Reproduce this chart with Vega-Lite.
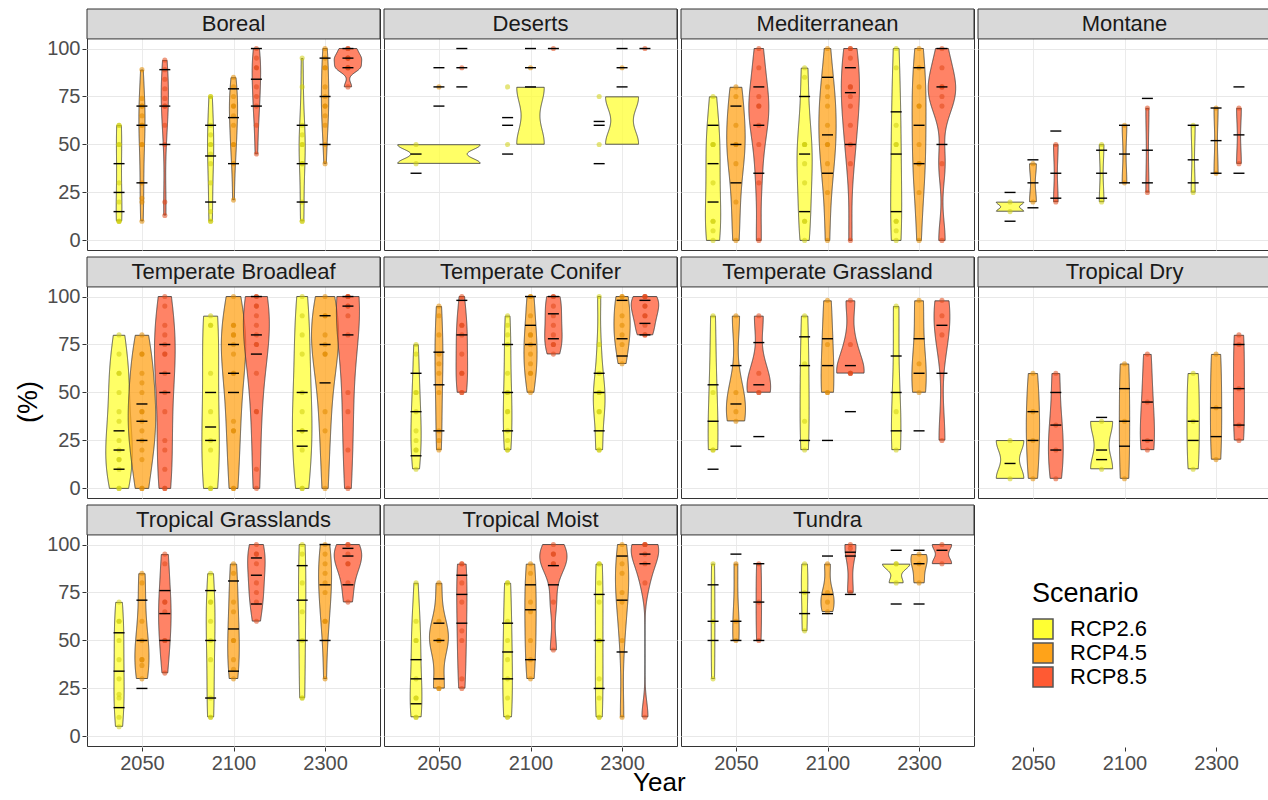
{
"$schema":"https://vega.github.io/schema/vega-lite/v6.json",
"background":"white",
"padding":{"left":14,"top":8,"right":0,"bottom":0},
"config":{
 "font":"Liberation Sans",
 "view":{"stroke":"#333333","strokeWidth":1},
 "axis":{"labelFont":"Liberation Sans","labelFontSize":20,"labelColor":"#4d4d4d","tickColor":"#333333","tickSize":4,"domain":false,"gridColor":"#ebebeb","labelPadding":2},
 "title":{"font":"Liberation Sans","fontWeight":"normal","color":"#000000","anchor":"middle"},
 "header":{"labels":false,"title":null,"labelFontSize":0,"labelPadding":0,"labelExpr":"''"},
 "headerFacet":{"labels":false,"title":null,"labelFontSize":0,"labelPadding":0,"labelExpr":"''"}
},
"datasets":{
"biomes":[{"b":"BO","Biome":"Boreal"},{"b":"DE","Biome":"Deserts"},{"b":"ME","Biome":"Mediterranean"},{"b":"MO","Biome":"Montane"},{"b":"TB","Biome":"Temperate Broadleaf"},{"b":"TC","Biome":"Temperate Conifer"},{"b":"TG","Biome":"Temperate Grassland"},{"b":"TD","Biome":"Tropical Dry"},{"b":"TR","Biome":"Tropical Grasslands"},{"b":"TM","Biome":"Tropical Moist"},{"b":"TU","Biome":"Tundra"}],
"obs":[
{"b":"BO","y":2050,"s":"RCP2.6","t":"p","v":60},{"b":"BO","y":2050,"s":"RCP2.6","t":"p","v":60},{"b":"BO","y":2050,"s":"RCP2.6","t":"p","v":50},{"b":"BO","y":2050,"s":"RCP2.6","t":"p","v":50},{"b":"BO","y":2050,"s":"RCP2.6","t":"p","v":30},{"b":"BO","y":2050,"s":"RCP2.6","t":"p","v":20},{"b":"BO","y":2050,"s":"RCP2.6","t":"p","v":10},{"b":"BO","y":2050,"s":"RCP2.6","t":"p","v":10},{"b":"BO","y":2050,"s":"RCP2.6","t":"p","v":10},
{"b":"BO","y":2050,"s":"RCP2.6","t":"q","v":40},{"b":"BO","y":2050,"s":"RCP2.6","t":"q","v":25},{"b":"BO","y":2050,"s":"RCP2.6","t":"q","v":15},
{"b":"BO","y":2050,"s":"RCP4.5","t":"p","v":89},{"b":"BO","y":2050,"s":"RCP4.5","t":"p","v":74},{"b":"BO","y":2050,"s":"RCP4.5","t":"p","v":70},{"b":"BO","y":2050,"s":"RCP4.5","t":"p","v":70},{"b":"BO","y":2050,"s":"RCP4.5","t":"p","v":65},{"b":"BO","y":2050,"s":"RCP4.5","t":"p","v":60},{"b":"BO","y":2050,"s":"RCP4.5","t":"p","v":60},{"b":"BO","y":2050,"s":"RCP4.5","t":"p","v":50},{"b":"BO","y":2050,"s":"RCP4.5","t":"p","v":50},{"b":"BO","y":2050,"s":"RCP4.5","t":"p","v":30},{"b":"BO","y":2050,"s":"RCP4.5","t":"p","v":22},{"b":"BO","y":2050,"s":"RCP4.5","t":"p","v":20},{"b":"BO","y":2050,"s":"RCP4.5","t":"p","v":10},
{"b":"BO","y":2050,"s":"RCP4.5","t":"q","v":70},{"b":"BO","y":2050,"s":"RCP4.5","t":"q","v":60},{"b":"BO","y":2050,"s":"RCP4.5","t":"q","v":30},
{"b":"BO","y":2050,"s":"RCP8.5","t":"p","v":94},{"b":"BO","y":2050,"s":"RCP8.5","t":"p","v":89},{"b":"BO","y":2050,"s":"RCP8.5","t":"p","v":84},{"b":"BO","y":2050,"s":"RCP8.5","t":"p","v":79},{"b":"BO","y":2050,"s":"RCP8.5","t":"p","v":74},{"b":"BO","y":2050,"s":"RCP8.5","t":"p","v":70},{"b":"BO","y":2050,"s":"RCP8.5","t":"p","v":70},{"b":"BO","y":2050,"s":"RCP8.5","t":"p","v":60},{"b":"BO","y":2050,"s":"RCP8.5","t":"p","v":50},{"b":"BO","y":2050,"s":"RCP8.5","t":"p","v":20},{"b":"BO","y":2050,"s":"RCP8.5","t":"p","v":13},
{"b":"BO","y":2050,"s":"RCP8.5","t":"q","v":89},{"b":"BO","y":2050,"s":"RCP8.5","t":"q","v":70},{"b":"BO","y":2050,"s":"RCP8.5","t":"q","v":50},
{"b":"BO","y":2100,"s":"RCP2.6","t":"p","v":75},{"b":"BO","y":2100,"s":"RCP2.6","t":"p","v":75},{"b":"BO","y":2100,"s":"RCP2.6","t":"p","v":60},{"b":"BO","y":2100,"s":"RCP2.6","t":"p","v":55},{"b":"BO","y":2100,"s":"RCP2.6","t":"p","v":50},{"b":"BO","y":2100,"s":"RCP2.6","t":"p","v":50},{"b":"BO","y":2100,"s":"RCP2.6","t":"p","v":45},{"b":"BO","y":2100,"s":"RCP2.6","t":"p","v":40},{"b":"BO","y":2100,"s":"RCP2.6","t":"p","v":30},{"b":"BO","y":2100,"s":"RCP2.6","t":"p","v":15},{"b":"BO","y":2100,"s":"RCP2.6","t":"p","v":10},{"b":"BO","y":2100,"s":"RCP2.6","t":"p","v":10},
{"b":"BO","y":2100,"s":"RCP2.6","t":"q","v":60},{"b":"BO","y":2100,"s":"RCP2.6","t":"q","v":44},{"b":"BO","y":2100,"s":"RCP2.6","t":"q","v":20},
{"b":"BO","y":2100,"s":"RCP4.5","t":"p","v":85},{"b":"BO","y":2100,"s":"RCP4.5","t":"p","v":80},{"b":"BO","y":2100,"s":"RCP4.5","t":"p","v":75},{"b":"BO","y":2100,"s":"RCP4.5","t":"p","v":70},{"b":"BO","y":2100,"s":"RCP4.5","t":"p","v":70},{"b":"BO","y":2100,"s":"RCP4.5","t":"p","v":65},{"b":"BO","y":2100,"s":"RCP4.5","t":"p","v":60},{"b":"BO","y":2100,"s":"RCP4.5","t":"p","v":50},{"b":"BO","y":2100,"s":"RCP4.5","t":"p","v":50},{"b":"BO","y":2100,"s":"RCP4.5","t":"p","v":40},{"b":"BO","y":2100,"s":"RCP4.5","t":"p","v":21},
{"b":"BO","y":2100,"s":"RCP4.5","t":"q","v":79},{"b":"BO","y":2100,"s":"RCP4.5","t":"q","v":64},{"b":"BO","y":2100,"s":"RCP4.5","t":"q","v":40},
{"b":"BO","y":2100,"s":"RCP8.5","t":"p","v":100},{"b":"BO","y":2100,"s":"RCP8.5","t":"p","v":95},{"b":"BO","y":2100,"s":"RCP8.5","t":"p","v":90},{"b":"BO","y":2100,"s":"RCP8.5","t":"p","v":90},{"b":"BO","y":2100,"s":"RCP8.5","t":"p","v":80},{"b":"BO","y":2100,"s":"RCP8.5","t":"p","v":75},{"b":"BO","y":2100,"s":"RCP8.5","t":"p","v":70},{"b":"BO","y":2100,"s":"RCP8.5","t":"p","v":60},{"b":"BO","y":2100,"s":"RCP8.5","t":"p","v":45},
{"b":"BO","y":2100,"s":"RCP8.5","t":"q","v":100},{"b":"BO","y":2100,"s":"RCP8.5","t":"q","v":84},{"b":"BO","y":2100,"s":"RCP8.5","t":"q","v":70},
{"b":"BO","y":2300,"s":"RCP2.6","t":"p","v":95},{"b":"BO","y":2300,"s":"RCP2.6","t":"p","v":80},{"b":"BO","y":2300,"s":"RCP2.6","t":"p","v":60},{"b":"BO","y":2300,"s":"RCP2.6","t":"p","v":55},{"b":"BO","y":2300,"s":"RCP2.6","t":"p","v":50},{"b":"BO","y":2300,"s":"RCP2.6","t":"p","v":50},{"b":"BO","y":2300,"s":"RCP2.6","t":"p","v":40},{"b":"BO","y":2300,"s":"RCP2.6","t":"p","v":40},{"b":"BO","y":2300,"s":"RCP2.6","t":"p","v":20},{"b":"BO","y":2300,"s":"RCP2.6","t":"p","v":10},{"b":"BO","y":2300,"s":"RCP2.6","t":"p","v":10},
{"b":"BO","y":2300,"s":"RCP2.6","t":"q","v":60},{"b":"BO","y":2300,"s":"RCP2.6","t":"q","v":40},{"b":"BO","y":2300,"s":"RCP2.6","t":"q","v":20},
{"b":"BO","y":2300,"s":"RCP4.5","t":"p","v":100},{"b":"BO","y":2300,"s":"RCP4.5","t":"p","v":95},{"b":"BO","y":2300,"s":"RCP4.5","t":"p","v":90},{"b":"BO","y":2300,"s":"RCP4.5","t":"p","v":90},{"b":"BO","y":2300,"s":"RCP4.5","t":"p","v":80},{"b":"BO","y":2300,"s":"RCP4.5","t":"p","v":75},{"b":"BO","y":2300,"s":"RCP4.5","t":"p","v":70},{"b":"BO","y":2300,"s":"RCP4.5","t":"p","v":70},{"b":"BO","y":2300,"s":"RCP4.5","t":"p","v":65},{"b":"BO","y":2300,"s":"RCP4.5","t":"p","v":60},{"b":"BO","y":2300,"s":"RCP4.5","t":"p","v":50},{"b":"BO","y":2300,"s":"RCP4.5","t":"p","v":40},
{"b":"BO","y":2300,"s":"RCP4.5","t":"q","v":95},{"b":"BO","y":2300,"s":"RCP4.5","t":"q","v":75},{"b":"BO","y":2300,"s":"RCP4.5","t":"q","v":50},
{"b":"BO","y":2300,"s":"RCP8.5","t":"p","v":100},{"b":"BO","y":2300,"s":"RCP8.5","t":"p","v":100},{"b":"BO","y":2300,"s":"RCP8.5","t":"p","v":95},{"b":"BO","y":2300,"s":"RCP8.5","t":"p","v":95},{"b":"BO","y":2300,"s":"RCP8.5","t":"p","v":95},{"b":"BO","y":2300,"s":"RCP8.5","t":"p","v":90},{"b":"BO","y":2300,"s":"RCP8.5","t":"p","v":90},{"b":"BO","y":2300,"s":"RCP8.5","t":"p","v":90},{"b":"BO","y":2300,"s":"RCP8.5","t":"p","v":80},
{"b":"BO","y":2300,"s":"RCP8.5","t":"q","v":100},{"b":"BO","y":2300,"s":"RCP8.5","t":"q","v":95},{"b":"BO","y":2300,"s":"RCP8.5","t":"q","v":90},

{"b":"DE","y":2050,"s":"RCP2.6","t":"p","v":50},{"b":"DE","y":2050,"s":"RCP2.6","t":"p","v":40},
{"b":"DE","y":2050,"s":"RCP2.6","t":"q","v":45},{"b":"DE","y":2050,"s":"RCP2.6","t":"q","v":35},
{"b":"DE","y":2050,"s":"RCP4.5","t":"p","v":80},
{"b":"DE","y":2050,"s":"RCP4.5","t":"q","v":90},{"b":"DE","y":2050,"s":"RCP4.5","t":"q","v":80},{"b":"DE","y":2050,"s":"RCP4.5","t":"q","v":70},
{"b":"DE","y":2050,"s":"RCP8.5","t":"p","v":90},
{"b":"DE","y":2050,"s":"RCP8.5","t":"q","v":100},{"b":"DE","y":2050,"s":"RCP8.5","t":"q","v":90},{"b":"DE","y":2050,"s":"RCP8.5","t":"q","v":80},
{"b":"DE","y":2100,"s":"RCP2.6","t":"p","v":80},{"b":"DE","y":2100,"s":"RCP2.6","t":"p","v":50},
{"b":"DE","y":2100,"s":"RCP2.6","t":"q","v":64},{"b":"DE","y":2100,"s":"RCP2.6","t":"q","v":60},{"b":"DE","y":2100,"s":"RCP2.6","t":"q","v":45},
{"b":"DE","y":2100,"s":"RCP4.5","t":"p","v":90},
{"b":"DE","y":2100,"s":"RCP4.5","t":"q","v":100},{"b":"DE","y":2100,"s":"RCP4.5","t":"q","v":90},{"b":"DE","y":2100,"s":"RCP4.5","t":"q","v":80},
{"b":"DE","y":2100,"s":"RCP8.5","t":"p","v":100},
{"b":"DE","y":2100,"s":"RCP8.5","t":"q","v":100},
{"b":"DE","y":2300,"s":"RCP2.6","t":"p","v":75},{"b":"DE","y":2300,"s":"RCP2.6","t":"p","v":50},
{"b":"DE","y":2300,"s":"RCP2.6","t":"q","v":62},{"b":"DE","y":2300,"s":"RCP2.6","t":"q","v":60},{"b":"DE","y":2300,"s":"RCP2.6","t":"q","v":40},
{"b":"DE","y":2300,"s":"RCP4.5","t":"p","v":90},
{"b":"DE","y":2300,"s":"RCP4.5","t":"q","v":100},{"b":"DE","y":2300,"s":"RCP4.5","t":"q","v":90},{"b":"DE","y":2300,"s":"RCP4.5","t":"q","v":80},
{"b":"DE","y":2300,"s":"RCP8.5","t":"p","v":100},
{"b":"DE","y":2300,"s":"RCP8.5","t":"q","v":100},

{"b":"ME","y":2050,"s":"RCP2.6","t":"p","v":75},{"b":"ME","y":2050,"s":"RCP2.6","t":"p","v":50},{"b":"ME","y":2050,"s":"RCP2.6","t":"p","v":50},{"b":"ME","y":2050,"s":"RCP2.6","t":"p","v":50},{"b":"ME","y":2050,"s":"RCP2.6","t":"p","v":30},{"b":"ME","y":2050,"s":"RCP2.6","t":"p","v":10},{"b":"ME","y":2050,"s":"RCP2.6","t":"p","v":10},{"b":"ME","y":2050,"s":"RCP2.6","t":"p","v":5},{"b":"ME","y":2050,"s":"RCP2.6","t":"p","v":0},
{"b":"ME","y":2050,"s":"RCP2.6","t":"q","v":60},{"b":"ME","y":2050,"s":"RCP2.6","t":"q","v":40},{"b":"ME","y":2050,"s":"RCP2.6","t":"q","v":20},
{"b":"ME","y":2050,"s":"RCP4.5","t":"p","v":80},{"b":"ME","y":2050,"s":"RCP4.5","t":"p","v":75},{"b":"ME","y":2050,"s":"RCP4.5","t":"p","v":60},{"b":"ME","y":2050,"s":"RCP4.5","t":"p","v":50},{"b":"ME","y":2050,"s":"RCP4.5","t":"p","v":50},{"b":"ME","y":2050,"s":"RCP4.5","t":"p","v":40},{"b":"ME","y":2050,"s":"RCP4.5","t":"p","v":20},{"b":"ME","y":2050,"s":"RCP4.5","t":"p","v":0},
{"b":"ME","y":2050,"s":"RCP4.5","t":"q","v":70},{"b":"ME","y":2050,"s":"RCP4.5","t":"q","v":50},{"b":"ME","y":2050,"s":"RCP4.5","t":"q","v":30},
{"b":"ME","y":2050,"s":"RCP8.5","t":"p","v":100},{"b":"ME","y":2050,"s":"RCP8.5","t":"p","v":90},{"b":"ME","y":2050,"s":"RCP8.5","t":"p","v":75},{"b":"ME","y":2050,"s":"RCP8.5","t":"p","v":70},{"b":"ME","y":2050,"s":"RCP8.5","t":"p","v":70},{"b":"ME","y":2050,"s":"RCP8.5","t":"p","v":60},{"b":"ME","y":2050,"s":"RCP8.5","t":"p","v":50},{"b":"ME","y":2050,"s":"RCP8.5","t":"p","v":30},{"b":"ME","y":2050,"s":"RCP8.5","t":"p","v":0},
{"b":"ME","y":2050,"s":"RCP8.5","t":"q","v":80},{"b":"ME","y":2050,"s":"RCP8.5","t":"q","v":60},{"b":"ME","y":2050,"s":"RCP8.5","t":"q","v":35},
{"b":"ME","y":2100,"s":"RCP2.6","t":"p","v":90},{"b":"ME","y":2100,"s":"RCP2.6","t":"p","v":85},{"b":"ME","y":2100,"s":"RCP2.6","t":"p","v":50},{"b":"ME","y":2100,"s":"RCP2.6","t":"p","v":50},{"b":"ME","y":2100,"s":"RCP2.6","t":"p","v":50},{"b":"ME","y":2100,"s":"RCP2.6","t":"p","v":40},{"b":"ME","y":2100,"s":"RCP2.6","t":"p","v":30},{"b":"ME","y":2100,"s":"RCP2.6","t":"p","v":10},{"b":"ME","y":2100,"s":"RCP2.6","t":"p","v":10},{"b":"ME","y":2100,"s":"RCP2.6","t":"p","v":0},
{"b":"ME","y":2100,"s":"RCP2.6","t":"q","v":75},{"b":"ME","y":2100,"s":"RCP2.6","t":"q","v":45},{"b":"ME","y":2100,"s":"RCP2.6","t":"q","v":15},
{"b":"ME","y":2100,"s":"RCP4.5","t":"p","v":100},{"b":"ME","y":2100,"s":"RCP4.5","t":"p","v":80},{"b":"ME","y":2100,"s":"RCP4.5","t":"p","v":75},{"b":"ME","y":2100,"s":"RCP4.5","t":"p","v":70},{"b":"ME","y":2100,"s":"RCP4.5","t":"p","v":60},{"b":"ME","y":2100,"s":"RCP4.5","t":"p","v":50},{"b":"ME","y":2100,"s":"RCP4.5","t":"p","v":50},{"b":"ME","y":2100,"s":"RCP4.5","t":"p","v":40},{"b":"ME","y":2100,"s":"RCP4.5","t":"p","v":25},{"b":"ME","y":2100,"s":"RCP4.5","t":"p","v":0},
{"b":"ME","y":2100,"s":"RCP4.5","t":"q","v":85},{"b":"ME","y":2100,"s":"RCP4.5","t":"q","v":55},{"b":"ME","y":2100,"s":"RCP4.5","t":"q","v":35},
{"b":"ME","y":2100,"s":"RCP8.5","t":"p","v":100},{"b":"ME","y":2100,"s":"RCP8.5","t":"p","v":100},{"b":"ME","y":2100,"s":"RCP8.5","t":"p","v":95},{"b":"ME","y":2100,"s":"RCP8.5","t":"p","v":80},{"b":"ME","y":2100,"s":"RCP8.5","t":"p","v":80},{"b":"ME","y":2100,"s":"RCP8.5","t":"p","v":75},{"b":"ME","y":2100,"s":"RCP8.5","t":"p","v":70},{"b":"ME","y":2100,"s":"RCP8.5","t":"p","v":60},{"b":"ME","y":2100,"s":"RCP8.5","t":"p","v":50},{"b":"ME","y":2100,"s":"RCP8.5","t":"p","v":40},{"b":"ME","y":2100,"s":"RCP8.5","t":"p","v":0},
{"b":"ME","y":2100,"s":"RCP8.5","t":"q","v":90},{"b":"ME","y":2100,"s":"RCP8.5","t":"q","v":77},{"b":"ME","y":2100,"s":"RCP8.5","t":"q","v":50},
{"b":"ME","y":2300,"s":"RCP2.6","t":"p","v":100},{"b":"ME","y":2300,"s":"RCP2.6","t":"p","v":90},{"b":"ME","y":2300,"s":"RCP2.6","t":"p","v":60},{"b":"ME","y":2300,"s":"RCP2.6","t":"p","v":50},{"b":"ME","y":2300,"s":"RCP2.6","t":"p","v":50},{"b":"ME","y":2300,"s":"RCP2.6","t":"p","v":10},{"b":"ME","y":2300,"s":"RCP2.6","t":"p","v":10},{"b":"ME","y":2300,"s":"RCP2.6","t":"p","v":5},{"b":"ME","y":2300,"s":"RCP2.6","t":"p","v":0},
{"b":"ME","y":2300,"s":"RCP2.6","t":"q","v":67},{"b":"ME","y":2300,"s":"RCP2.6","t":"q","v":45},{"b":"ME","y":2300,"s":"RCP2.6","t":"q","v":15},
{"b":"ME","y":2300,"s":"RCP4.5","t":"p","v":100},{"b":"ME","y":2300,"s":"RCP4.5","t":"p","v":90},{"b":"ME","y":2300,"s":"RCP4.5","t":"p","v":80},{"b":"ME","y":2300,"s":"RCP4.5","t":"p","v":70},{"b":"ME","y":2300,"s":"RCP4.5","t":"p","v":70},{"b":"ME","y":2300,"s":"RCP4.5","t":"p","v":50},{"b":"ME","y":2300,"s":"RCP4.5","t":"p","v":40},{"b":"ME","y":2300,"s":"RCP4.5","t":"p","v":40},{"b":"ME","y":2300,"s":"RCP4.5","t":"p","v":25},{"b":"ME","y":2300,"s":"RCP4.5","t":"p","v":0},
{"b":"ME","y":2300,"s":"RCP4.5","t":"q","v":90},{"b":"ME","y":2300,"s":"RCP4.5","t":"q","v":60},{"b":"ME","y":2300,"s":"RCP4.5","t":"q","v":40},
{"b":"ME","y":2300,"s":"RCP8.5","t":"p","v":100},{"b":"ME","y":2300,"s":"RCP8.5","t":"p","v":90},{"b":"ME","y":2300,"s":"RCP8.5","t":"p","v":80},{"b":"ME","y":2300,"s":"RCP8.5","t":"p","v":80},{"b":"ME","y":2300,"s":"RCP8.5","t":"p","v":75},{"b":"ME","y":2300,"s":"RCP8.5","t":"p","v":70},{"b":"ME","y":2300,"s":"RCP8.5","t":"p","v":40},{"b":"ME","y":2300,"s":"RCP8.5","t":"p","v":0},
{"b":"ME","y":2300,"s":"RCP8.5","t":"q","v":100},{"b":"ME","y":2300,"s":"RCP8.5","t":"q","v":80},{"b":"ME","y":2300,"s":"RCP8.5","t":"q","v":50},

{"b":"MO","y":2050,"s":"RCP2.6","t":"p","v":20},{"b":"MO","y":2050,"s":"RCP2.6","t":"p","v":15},
{"b":"MO","y":2050,"s":"RCP2.6","t":"q","v":25},{"b":"MO","y":2050,"s":"RCP2.6","t":"q","v":10},
{"b":"MO","y":2050,"s":"RCP4.5","t":"p","v":40},{"b":"MO","y":2050,"s":"RCP4.5","t":"p","v":20},
{"b":"MO","y":2050,"s":"RCP4.5","t":"q","v":42},{"b":"MO","y":2050,"s":"RCP4.5","t":"q","v":30},{"b":"MO","y":2050,"s":"RCP4.5","t":"q","v":17},
{"b":"MO","y":2050,"s":"RCP8.5","t":"p","v":50},{"b":"MO","y":2050,"s":"RCP8.5","t":"p","v":20},
{"b":"MO","y":2050,"s":"RCP8.5","t":"q","v":57},{"b":"MO","y":2050,"s":"RCP8.5","t":"q","v":35},{"b":"MO","y":2050,"s":"RCP8.5","t":"q","v":22},
{"b":"MO","y":2100,"s":"RCP2.6","t":"p","v":50},{"b":"MO","y":2100,"s":"RCP2.6","t":"p","v":20},
{"b":"MO","y":2100,"s":"RCP2.6","t":"q","v":47},{"b":"MO","y":2100,"s":"RCP2.6","t":"q","v":35},{"b":"MO","y":2100,"s":"RCP2.6","t":"q","v":22},
{"b":"MO","y":2100,"s":"RCP4.5","t":"p","v":60},{"b":"MO","y":2100,"s":"RCP4.5","t":"p","v":30},
{"b":"MO","y":2100,"s":"RCP4.5","t":"q","v":60},{"b":"MO","y":2100,"s":"RCP4.5","t":"q","v":45},{"b":"MO","y":2100,"s":"RCP4.5","t":"q","v":30},
{"b":"MO","y":2100,"s":"RCP8.5","t":"p","v":69},{"b":"MO","y":2100,"s":"RCP8.5","t":"p","v":25},
{"b":"MO","y":2100,"s":"RCP8.5","t":"q","v":74},{"b":"MO","y":2100,"s":"RCP8.5","t":"q","v":47},{"b":"MO","y":2100,"s":"RCP8.5","t":"q","v":30},
{"b":"MO","y":2300,"s":"RCP2.6","t":"p","v":60},{"b":"MO","y":2300,"s":"RCP2.6","t":"p","v":25},
{"b":"MO","y":2300,"s":"RCP2.6","t":"q","v":60},{"b":"MO","y":2300,"s":"RCP2.6","t":"q","v":42},{"b":"MO","y":2300,"s":"RCP2.6","t":"q","v":30},
{"b":"MO","y":2300,"s":"RCP4.5","t":"p","v":69},{"b":"MO","y":2300,"s":"RCP4.5","t":"p","v":35},
{"b":"MO","y":2300,"s":"RCP4.5","t":"q","v":69},{"b":"MO","y":2300,"s":"RCP4.5","t":"q","v":52},{"b":"MO","y":2300,"s":"RCP4.5","t":"q","v":35},
{"b":"MO","y":2300,"s":"RCP8.5","t":"p","v":69},{"b":"MO","y":2300,"s":"RCP8.5","t":"p","v":40},
{"b":"MO","y":2300,"s":"RCP8.5","t":"q","v":80},{"b":"MO","y":2300,"s":"RCP8.5","t":"q","v":55},{"b":"MO","y":2300,"s":"RCP8.5","t":"q","v":35},

{"b":"TB","y":2050,"s":"RCP2.6","t":"p","v":80},{"b":"TB","y":2050,"s":"RCP2.6","t":"p","v":70},{"b":"TB","y":2050,"s":"RCP2.6","t":"p","v":60},{"b":"TB","y":2050,"s":"RCP2.6","t":"p","v":60},{"b":"TB","y":2050,"s":"RCP2.6","t":"p","v":50},{"b":"TB","y":2050,"s":"RCP2.6","t":"p","v":40},{"b":"TB","y":2050,"s":"RCP2.6","t":"p","v":35},{"b":"TB","y":2050,"s":"RCP2.6","t":"p","v":25},{"b":"TB","y":2050,"s":"RCP2.6","t":"p","v":20},{"b":"TB","y":2050,"s":"RCP2.6","t":"p","v":15},{"b":"TB","y":2050,"s":"RCP2.6","t":"p","v":15},{"b":"TB","y":2050,"s":"RCP2.6","t":"p","v":10},{"b":"TB","y":2050,"s":"RCP2.6","t":"p","v":0},{"b":"TB","y":2050,"s":"RCP2.6","t":"p","v":0},
{"b":"TB","y":2050,"s":"RCP2.6","t":"q","v":30},{"b":"TB","y":2050,"s":"RCP2.6","t":"q","v":20},{"b":"TB","y":2050,"s":"RCP2.6","t":"q","v":10},
{"b":"TB","y":2050,"s":"RCP4.5","t":"p","v":80},{"b":"TB","y":2050,"s":"RCP4.5","t":"p","v":70},{"b":"TB","y":2050,"s":"RCP4.5","t":"p","v":70},{"b":"TB","y":2050,"s":"RCP4.5","t":"p","v":60},{"b":"TB","y":2050,"s":"RCP4.5","t":"p","v":55},{"b":"TB","y":2050,"s":"RCP4.5","t":"p","v":50},{"b":"TB","y":2050,"s":"RCP4.5","t":"p","v":40},{"b":"TB","y":2050,"s":"RCP4.5","t":"p","v":40},{"b":"TB","y":2050,"s":"RCP4.5","t":"p","v":35},{"b":"TB","y":2050,"s":"RCP4.5","t":"p","v":30},{"b":"TB","y":2050,"s":"RCP4.5","t":"p","v":25},{"b":"TB","y":2050,"s":"RCP4.5","t":"p","v":20},{"b":"TB","y":2050,"s":"RCP4.5","t":"p","v":15},{"b":"TB","y":2050,"s":"RCP4.5","t":"p","v":0},{"b":"TB","y":2050,"s":"RCP4.5","t":"p","v":0},
{"b":"TB","y":2050,"s":"RCP4.5","t":"q","v":44},{"b":"TB","y":2050,"s":"RCP4.5","t":"q","v":35},{"b":"TB","y":2050,"s":"RCP4.5","t":"q","v":25},
{"b":"TB","y":2050,"s":"RCP8.5","t":"p","v":100},{"b":"TB","y":2050,"s":"RCP8.5","t":"p","v":95},{"b":"TB","y":2050,"s":"RCP8.5","t":"p","v":85},{"b":"TB","y":2050,"s":"RCP8.5","t":"p","v":80},{"b":"TB","y":2050,"s":"RCP8.5","t":"p","v":75},{"b":"TB","y":2050,"s":"RCP8.5","t":"p","v":70},{"b":"TB","y":2050,"s":"RCP8.5","t":"p","v":70},{"b":"TB","y":2050,"s":"RCP8.5","t":"p","v":60},{"b":"TB","y":2050,"s":"RCP8.5","t":"p","v":50},{"b":"TB","y":2050,"s":"RCP8.5","t":"p","v":40},{"b":"TB","y":2050,"s":"RCP8.5","t":"p","v":25},{"b":"TB","y":2050,"s":"RCP8.5","t":"p","v":20},{"b":"TB","y":2050,"s":"RCP8.5","t":"p","v":10},{"b":"TB","y":2050,"s":"RCP8.5","t":"p","v":0},{"b":"TB","y":2050,"s":"RCP8.5","t":"p","v":0},
{"b":"TB","y":2050,"s":"RCP8.5","t":"q","v":75},{"b":"TB","y":2050,"s":"RCP8.5","t":"q","v":60},{"b":"TB","y":2050,"s":"RCP8.5","t":"q","v":50},
{"b":"TB","y":2100,"s":"RCP2.6","t":"p","v":90},{"b":"TB","y":2100,"s":"RCP2.6","t":"p","v":85},{"b":"TB","y":2100,"s":"RCP2.6","t":"p","v":85},{"b":"TB","y":2100,"s":"RCP2.6","t":"p","v":60},{"b":"TB","y":2100,"s":"RCP2.6","t":"p","v":40},{"b":"TB","y":2100,"s":"RCP2.6","t":"p","v":25},{"b":"TB","y":2100,"s":"RCP2.6","t":"p","v":20},{"b":"TB","y":2100,"s":"RCP2.6","t":"p","v":0},{"b":"TB","y":2100,"s":"RCP2.6","t":"p","v":0},
{"b":"TB","y":2100,"s":"RCP2.6","t":"q","v":50},{"b":"TB","y":2100,"s":"RCP2.6","t":"q","v":32},{"b":"TB","y":2100,"s":"RCP2.6","t":"q","v":25},
{"b":"TB","y":2100,"s":"RCP4.5","t":"p","v":100},{"b":"TB","y":2100,"s":"RCP4.5","t":"p","v":85},{"b":"TB","y":2100,"s":"RCP4.5","t":"p","v":85},{"b":"TB","y":2100,"s":"RCP4.5","t":"p","v":80},{"b":"TB","y":2100,"s":"RCP4.5","t":"p","v":80},{"b":"TB","y":2100,"s":"RCP4.5","t":"p","v":75},{"b":"TB","y":2100,"s":"RCP4.5","t":"p","v":70},{"b":"TB","y":2100,"s":"RCP4.5","t":"p","v":60},{"b":"TB","y":2100,"s":"RCP4.5","t":"p","v":60},{"b":"TB","y":2100,"s":"RCP4.5","t":"p","v":35},{"b":"TB","y":2100,"s":"RCP4.5","t":"p","v":30},{"b":"TB","y":2100,"s":"RCP4.5","t":"p","v":30},{"b":"TB","y":2100,"s":"RCP4.5","t":"p","v":0},{"b":"TB","y":2100,"s":"RCP4.5","t":"p","v":0},
{"b":"TB","y":2100,"s":"RCP4.5","t":"q","v":75},{"b":"TB","y":2100,"s":"RCP4.5","t":"q","v":60},{"b":"TB","y":2100,"s":"RCP4.5","t":"q","v":50},
{"b":"TB","y":2100,"s":"RCP8.5","t":"p","v":100},{"b":"TB","y":2100,"s":"RCP8.5","t":"p","v":100},{"b":"TB","y":2100,"s":"RCP8.5","t":"p","v":95},{"b":"TB","y":2100,"s":"RCP8.5","t":"p","v":95},{"b":"TB","y":2100,"s":"RCP8.5","t":"p","v":90},{"b":"TB","y":2100,"s":"RCP8.5","t":"p","v":85},{"b":"TB","y":2100,"s":"RCP8.5","t":"p","v":80},{"b":"TB","y":2100,"s":"RCP8.5","t":"p","v":75},{"b":"TB","y":2100,"s":"RCP8.5","t":"p","v":75},{"b":"TB","y":2100,"s":"RCP8.5","t":"p","v":60},{"b":"TB","y":2100,"s":"RCP8.5","t":"p","v":40},{"b":"TB","y":2100,"s":"RCP8.5","t":"p","v":40},{"b":"TB","y":2100,"s":"RCP8.5","t":"p","v":10},{"b":"TB","y":2100,"s":"RCP8.5","t":"p","v":0},
{"b":"TB","y":2100,"s":"RCP8.5","t":"q","v":100},{"b":"TB","y":2100,"s":"RCP8.5","t":"q","v":80},{"b":"TB","y":2100,"s":"RCP8.5","t":"q","v":70},
{"b":"TB","y":2300,"s":"RCP2.6","t":"p","v":100},{"b":"TB","y":2300,"s":"RCP2.6","t":"p","v":90},{"b":"TB","y":2300,"s":"RCP2.6","t":"p","v":80},{"b":"TB","y":2300,"s":"RCP2.6","t":"p","v":70},{"b":"TB","y":2300,"s":"RCP2.6","t":"p","v":50},{"b":"TB","y":2300,"s":"RCP2.6","t":"p","v":40},{"b":"TB","y":2300,"s":"RCP2.6","t":"p","v":30},{"b":"TB","y":2300,"s":"RCP2.6","t":"p","v":30},{"b":"TB","y":2300,"s":"RCP2.6","t":"p","v":20},{"b":"TB","y":2300,"s":"RCP2.6","t":"p","v":0},{"b":"TB","y":2300,"s":"RCP2.6","t":"p","v":0},
{"b":"TB","y":2300,"s":"RCP2.6","t":"q","v":50},{"b":"TB","y":2300,"s":"RCP2.6","t":"q","v":30},{"b":"TB","y":2300,"s":"RCP2.6","t":"q","v":22},
{"b":"TB","y":2300,"s":"RCP4.5","t":"p","v":100},{"b":"TB","y":2300,"s":"RCP4.5","t":"p","v":90},{"b":"TB","y":2300,"s":"RCP4.5","t":"p","v":90},{"b":"TB","y":2300,"s":"RCP4.5","t":"p","v":80},{"b":"TB","y":2300,"s":"RCP4.5","t":"p","v":75},{"b":"TB","y":2300,"s":"RCP4.5","t":"p","v":70},{"b":"TB","y":2300,"s":"RCP4.5","t":"p","v":70},{"b":"TB","y":2300,"s":"RCP4.5","t":"p","v":40},{"b":"TB","y":2300,"s":"RCP4.5","t":"p","v":30},{"b":"TB","y":2300,"s":"RCP4.5","t":"p","v":0},
{"b":"TB","y":2300,"s":"RCP4.5","t":"q","v":90},{"b":"TB","y":2300,"s":"RCP4.5","t":"q","v":75},{"b":"TB","y":2300,"s":"RCP4.5","t":"q","v":55},
{"b":"TB","y":2300,"s":"RCP8.5","t":"p","v":100},{"b":"TB","y":2300,"s":"RCP8.5","t":"p","v":100},{"b":"TB","y":2300,"s":"RCP8.5","t":"p","v":100},{"b":"TB","y":2300,"s":"RCP8.5","t":"p","v":95},{"b":"TB","y":2300,"s":"RCP8.5","t":"p","v":95},{"b":"TB","y":2300,"s":"RCP8.5","t":"p","v":90},{"b":"TB","y":2300,"s":"RCP8.5","t":"p","v":80},{"b":"TB","y":2300,"s":"RCP8.5","t":"p","v":50},{"b":"TB","y":2300,"s":"RCP8.5","t":"p","v":40},{"b":"TB","y":2300,"s":"RCP8.5","t":"p","v":20},{"b":"TB","y":2300,"s":"RCP8.5","t":"p","v":0},
{"b":"TB","y":2300,"s":"RCP8.5","t":"q","v":100},{"b":"TB","y":2300,"s":"RCP8.5","t":"q","v":95},{"b":"TB","y":2300,"s":"RCP8.5","t":"q","v":80},

{"b":"TC","y":2050,"s":"RCP2.6","t":"p","v":75},{"b":"TC","y":2050,"s":"RCP2.6","t":"p","v":70},{"b":"TC","y":2050,"s":"RCP2.6","t":"p","v":50},{"b":"TC","y":2050,"s":"RCP2.6","t":"p","v":50},{"b":"TC","y":2050,"s":"RCP2.6","t":"p","v":40},{"b":"TC","y":2050,"s":"RCP2.6","t":"p","v":30},{"b":"TC","y":2050,"s":"RCP2.6","t":"p","v":25},{"b":"TC","y":2050,"s":"RCP2.6","t":"p","v":20},{"b":"TC","y":2050,"s":"RCP2.6","t":"p","v":20},{"b":"TC","y":2050,"s":"RCP2.6","t":"p","v":10},
{"b":"TC","y":2050,"s":"RCP2.6","t":"q","v":60},{"b":"TC","y":2050,"s":"RCP2.6","t":"q","v":40},{"b":"TC","y":2050,"s":"RCP2.6","t":"q","v":17},
{"b":"TC","y":2050,"s":"RCP4.5","t":"p","v":95},{"b":"TC","y":2050,"s":"RCP4.5","t":"p","v":90},{"b":"TC","y":2050,"s":"RCP4.5","t":"p","v":80},{"b":"TC","y":2050,"s":"RCP4.5","t":"p","v":70},{"b":"TC","y":2050,"s":"RCP4.5","t":"p","v":65},{"b":"TC","y":2050,"s":"RCP4.5","t":"p","v":60},{"b":"TC","y":2050,"s":"RCP4.5","t":"p","v":50},{"b":"TC","y":2050,"s":"RCP4.5","t":"p","v":30},{"b":"TC","y":2050,"s":"RCP4.5","t":"p","v":25},{"b":"TC","y":2050,"s":"RCP4.5","t":"p","v":20},
{"b":"TC","y":2050,"s":"RCP4.5","t":"q","v":71},{"b":"TC","y":2050,"s":"RCP4.5","t":"q","v":54},{"b":"TC","y":2050,"s":"RCP4.5","t":"q","v":30},
{"b":"TC","y":2050,"s":"RCP8.5","t":"p","v":100},{"b":"TC","y":2050,"s":"RCP8.5","t":"p","v":85},{"b":"TC","y":2050,"s":"RCP8.5","t":"p","v":85},{"b":"TC","y":2050,"s":"RCP8.5","t":"p","v":80},{"b":"TC","y":2050,"s":"RCP8.5","t":"p","v":70},{"b":"TC","y":2050,"s":"RCP8.5","t":"p","v":60},{"b":"TC","y":2050,"s":"RCP8.5","t":"p","v":60},{"b":"TC","y":2050,"s":"RCP8.5","t":"p","v":50},{"b":"TC","y":2050,"s":"RCP8.5","t":"p","v":50},
{"b":"TC","y":2050,"s":"RCP8.5","t":"q","v":98},{"b":"TC","y":2050,"s":"RCP8.5","t":"q","v":80},
{"b":"TC","y":2100,"s":"RCP2.6","t":"p","v":90},{"b":"TC","y":2100,"s":"RCP2.6","t":"p","v":85},{"b":"TC","y":2100,"s":"RCP2.6","t":"p","v":80},{"b":"TC","y":2100,"s":"RCP2.6","t":"p","v":75},{"b":"TC","y":2100,"s":"RCP2.6","t":"p","v":60},{"b":"TC","y":2100,"s":"RCP2.6","t":"p","v":50},{"b":"TC","y":2100,"s":"RCP2.6","t":"p","v":50},{"b":"TC","y":2100,"s":"RCP2.6","t":"p","v":40},{"b":"TC","y":2100,"s":"RCP2.6","t":"p","v":40},{"b":"TC","y":2100,"s":"RCP2.6","t":"p","v":30},{"b":"TC","y":2100,"s":"RCP2.6","t":"p","v":25},{"b":"TC","y":2100,"s":"RCP2.6","t":"p","v":20},{"b":"TC","y":2100,"s":"RCP2.6","t":"p","v":20},
{"b":"TC","y":2100,"s":"RCP2.6","t":"q","v":75},{"b":"TC","y":2100,"s":"RCP2.6","t":"q","v":50},{"b":"TC","y":2100,"s":"RCP2.6","t":"q","v":30},
{"b":"TC","y":2100,"s":"RCP4.5","t":"p","v":100},{"b":"TC","y":2100,"s":"RCP4.5","t":"p","v":100},{"b":"TC","y":2100,"s":"RCP4.5","t":"p","v":90},{"b":"TC","y":2100,"s":"RCP4.5","t":"p","v":80},{"b":"TC","y":2100,"s":"RCP4.5","t":"p","v":80},{"b":"TC","y":2100,"s":"RCP4.5","t":"p","v":75},{"b":"TC","y":2100,"s":"RCP4.5","t":"p","v":70},{"b":"TC","y":2100,"s":"RCP4.5","t":"p","v":65},{"b":"TC","y":2100,"s":"RCP4.5","t":"p","v":60},{"b":"TC","y":2100,"s":"RCP4.5","t":"p","v":60},{"b":"TC","y":2100,"s":"RCP4.5","t":"p","v":50},
{"b":"TC","y":2100,"s":"RCP4.5","t":"q","v":100},{"b":"TC","y":2100,"s":"RCP4.5","t":"q","v":85},{"b":"TC","y":2100,"s":"RCP4.5","t":"q","v":75},
{"b":"TC","y":2100,"s":"RCP8.5","t":"p","v":100},{"b":"TC","y":2100,"s":"RCP8.5","t":"p","v":100},{"b":"TC","y":2100,"s":"RCP8.5","t":"p","v":95},{"b":"TC","y":2100,"s":"RCP8.5","t":"p","v":90},{"b":"TC","y":2100,"s":"RCP8.5","t":"p","v":85},{"b":"TC","y":2100,"s":"RCP8.5","t":"p","v":80},{"b":"TC","y":2100,"s":"RCP8.5","t":"p","v":75},{"b":"TC","y":2100,"s":"RCP8.5","t":"p","v":75},{"b":"TC","y":2100,"s":"RCP8.5","t":"p","v":70},
{"b":"TC","y":2100,"s":"RCP8.5","t":"q","v":100},{"b":"TC","y":2100,"s":"RCP8.5","t":"q","v":91},{"b":"TC","y":2100,"s":"RCP8.5","t":"q","v":78},
{"b":"TC","y":2300,"s":"RCP2.6","t":"p","v":100},{"b":"TC","y":2300,"s":"RCP2.6","t":"p","v":75},{"b":"TC","y":2300,"s":"RCP2.6","t":"p","v":60},{"b":"TC","y":2300,"s":"RCP2.6","t":"p","v":50},{"b":"TC","y":2300,"s":"RCP2.6","t":"p","v":50},{"b":"TC","y":2300,"s":"RCP2.6","t":"p","v":40},{"b":"TC","y":2300,"s":"RCP2.6","t":"p","v":40},{"b":"TC","y":2300,"s":"RCP2.6","t":"p","v":20},{"b":"TC","y":2300,"s":"RCP2.6","t":"p","v":20},
{"b":"TC","y":2300,"s":"RCP2.6","t":"q","v":60},{"b":"TC","y":2300,"s":"RCP2.6","t":"q","v":50},{"b":"TC","y":2300,"s":"RCP2.6","t":"q","v":30},
{"b":"TC","y":2300,"s":"RCP4.5","t":"p","v":100},{"b":"TC","y":2300,"s":"RCP4.5","t":"p","v":100},{"b":"TC","y":2300,"s":"RCP4.5","t":"p","v":90},{"b":"TC","y":2300,"s":"RCP4.5","t":"p","v":85},{"b":"TC","y":2300,"s":"RCP4.5","t":"p","v":80},{"b":"TC","y":2300,"s":"RCP4.5","t":"p","v":75},{"b":"TC","y":2300,"s":"RCP4.5","t":"p","v":65},
{"b":"TC","y":2300,"s":"RCP4.5","t":"q","v":98},{"b":"TC","y":2300,"s":"RCP4.5","t":"q","v":78},{"b":"TC","y":2300,"s":"RCP4.5","t":"q","v":69},
{"b":"TC","y":2300,"s":"RCP8.5","t":"p","v":100},{"b":"TC","y":2300,"s":"RCP8.5","t":"p","v":100},{"b":"TC","y":2300,"s":"RCP8.5","t":"p","v":100},{"b":"TC","y":2300,"s":"RCP8.5","t":"p","v":95},{"b":"TC","y":2300,"s":"RCP8.5","t":"p","v":95},{"b":"TC","y":2300,"s":"RCP8.5","t":"p","v":90},{"b":"TC","y":2300,"s":"RCP8.5","t":"p","v":90},{"b":"TC","y":2300,"s":"RCP8.5","t":"p","v":85},{"b":"TC","y":2300,"s":"RCP8.5","t":"p","v":80},{"b":"TC","y":2300,"s":"RCP8.5","t":"p","v":80},
{"b":"TC","y":2300,"s":"RCP8.5","t":"q","v":98},{"b":"TC","y":2300,"s":"RCP8.5","t":"q","v":86},{"b":"TC","y":2300,"s":"RCP8.5","t":"q","v":80},

{"b":"TG","y":2050,"s":"RCP2.6","t":"p","v":90},{"b":"TG","y":2050,"s":"RCP2.6","t":"p","v":50},{"b":"TG","y":2050,"s":"RCP2.6","t":"p","v":20},{"b":"TG","y":2050,"s":"RCP2.6","t":"p","v":20},
{"b":"TG","y":2050,"s":"RCP2.6","t":"q","v":54},{"b":"TG","y":2050,"s":"RCP2.6","t":"q","v":35},{"b":"TG","y":2050,"s":"RCP2.6","t":"q","v":10},
{"b":"TG","y":2050,"s":"RCP4.5","t":"p","v":90},{"b":"TG","y":2050,"s":"RCP4.5","t":"p","v":50},{"b":"TG","y":2050,"s":"RCP4.5","t":"p","v":40},{"b":"TG","y":2050,"s":"RCP4.5","t":"p","v":35},
{"b":"TG","y":2050,"s":"RCP4.5","t":"q","v":64},{"b":"TG","y":2050,"s":"RCP4.5","t":"q","v":44},{"b":"TG","y":2050,"s":"RCP4.5","t":"q","v":22},
{"b":"TG","y":2050,"s":"RCP8.5","t":"p","v":90},{"b":"TG","y":2050,"s":"RCP8.5","t":"p","v":60},{"b":"TG","y":2050,"s":"RCP8.5","t":"p","v":50},{"b":"TG","y":2050,"s":"RCP8.5","t":"p","v":50},
{"b":"TG","y":2050,"s":"RCP8.5","t":"q","v":76},{"b":"TG","y":2050,"s":"RCP8.5","t":"q","v":54},{"b":"TG","y":2050,"s":"RCP8.5","t":"q","v":27},
{"b":"TG","y":2100,"s":"RCP2.6","t":"p","v":90},{"b":"TG","y":2100,"s":"RCP2.6","t":"p","v":65},{"b":"TG","y":2100,"s":"RCP2.6","t":"p","v":35},{"b":"TG","y":2100,"s":"RCP2.6","t":"p","v":20},
{"b":"TG","y":2100,"s":"RCP2.6","t":"q","v":79},{"b":"TG","y":2100,"s":"RCP2.6","t":"q","v":64},{"b":"TG","y":2100,"s":"RCP2.6","t":"q","v":25},
{"b":"TG","y":2100,"s":"RCP4.5","t":"p","v":98},{"b":"TG","y":2100,"s":"RCP4.5","t":"p","v":75},{"b":"TG","y":2100,"s":"RCP4.5","t":"p","v":50},{"b":"TG","y":2100,"s":"RCP4.5","t":"p","v":50},
{"b":"TG","y":2100,"s":"RCP4.5","t":"q","v":78},{"b":"TG","y":2100,"s":"RCP4.5","t":"q","v":64},{"b":"TG","y":2100,"s":"RCP4.5","t":"q","v":25},
{"b":"TG","y":2100,"s":"RCP8.5","t":"p","v":98},{"b":"TG","y":2100,"s":"RCP8.5","t":"p","v":75},{"b":"TG","y":2100,"s":"RCP8.5","t":"p","v":60},{"b":"TG","y":2100,"s":"RCP8.5","t":"p","v":60},{"b":"TG","y":2100,"s":"RCP8.5","t":"p","v":60},
{"b":"TG","y":2100,"s":"RCP8.5","t":"q","v":64},{"b":"TG","y":2100,"s":"RCP8.5","t":"q","v":40},
{"b":"TG","y":2300,"s":"RCP2.6","t":"p","v":95},{"b":"TG","y":2300,"s":"RCP2.6","t":"p","v":40},{"b":"TG","y":2300,"s":"RCP2.6","t":"p","v":20},
{"b":"TG","y":2300,"s":"RCP2.6","t":"q","v":69},{"b":"TG","y":2300,"s":"RCP2.6","t":"q","v":50},{"b":"TG","y":2300,"s":"RCP2.6","t":"q","v":30},
{"b":"TG","y":2300,"s":"RCP4.5","t":"p","v":98},{"b":"TG","y":2300,"s":"RCP4.5","t":"p","v":65},{"b":"TG","y":2300,"s":"RCP4.5","t":"p","v":50},
{"b":"TG","y":2300,"s":"RCP4.5","t":"q","v":78},{"b":"TG","y":2300,"s":"RCP4.5","t":"q","v":60},{"b":"TG","y":2300,"s":"RCP4.5","t":"q","v":30},
{"b":"TG","y":2300,"s":"RCP8.5","t":"p","v":98},{"b":"TG","y":2300,"s":"RCP8.5","t":"p","v":90},{"b":"TG","y":2300,"s":"RCP8.5","t":"p","v":80},{"b":"TG","y":2300,"s":"RCP8.5","t":"p","v":25},
{"b":"TG","y":2300,"s":"RCP8.5","t":"q","v":85},{"b":"TG","y":2300,"s":"RCP8.5","t":"q","v":60},

{"b":"TD","y":2050,"s":"RCP2.6","t":"p","v":25},{"b":"TD","y":2050,"s":"RCP2.6","t":"p","v":5},
{"b":"TD","y":2050,"s":"RCP2.6","t":"q","v":13},
{"b":"TD","y":2050,"s":"RCP4.5","t":"p","v":60},{"b":"TD","y":2050,"s":"RCP4.5","t":"p","v":40},{"b":"TD","y":2050,"s":"RCP4.5","t":"p","v":25},{"b":"TD","y":2050,"s":"RCP4.5","t":"p","v":5},
{"b":"TD","y":2050,"s":"RCP4.5","t":"q","v":40},{"b":"TD","y":2050,"s":"RCP4.5","t":"q","v":25},
{"b":"TD","y":2050,"s":"RCP8.5","t":"p","v":60},{"b":"TD","y":2050,"s":"RCP8.5","t":"p","v":33},{"b":"TD","y":2050,"s":"RCP8.5","t":"p","v":20},{"b":"TD","y":2050,"s":"RCP8.5","t":"p","v":5},
{"b":"TD","y":2050,"s":"RCP8.5","t":"q","v":50},{"b":"TD","y":2050,"s":"RCP8.5","t":"q","v":33},{"b":"TD","y":2050,"s":"RCP8.5","t":"q","v":20},
{"b":"TD","y":2100,"s":"RCP2.6","t":"p","v":35},{"b":"TD","y":2100,"s":"RCP2.6","t":"p","v":10},
{"b":"TD","y":2100,"s":"RCP2.6","t":"q","v":37},{"b":"TD","y":2100,"s":"RCP2.6","t":"q","v":20},{"b":"TD","y":2100,"s":"RCP2.6","t":"q","v":15},
{"b":"TD","y":2100,"s":"RCP4.5","t":"p","v":65},{"b":"TD","y":2100,"s":"RCP4.5","t":"p","v":35},{"b":"TD","y":2100,"s":"RCP4.5","t":"p","v":5},
{"b":"TD","y":2100,"s":"RCP4.5","t":"q","v":52},{"b":"TD","y":2100,"s":"RCP4.5","t":"q","v":35},{"b":"TD","y":2100,"s":"RCP4.5","t":"q","v":22},
{"b":"TD","y":2100,"s":"RCP8.5","t":"p","v":70},{"b":"TD","y":2100,"s":"RCP8.5","t":"p","v":45},{"b":"TD","y":2100,"s":"RCP8.5","t":"p","v":25},{"b":"TD","y":2100,"s":"RCP8.5","t":"p","v":20},
{"b":"TD","y":2100,"s":"RCP8.5","t":"q","v":45},{"b":"TD","y":2100,"s":"RCP8.5","t":"q","v":25},
{"b":"TD","y":2300,"s":"RCP2.6","t":"p","v":60},{"b":"TD","y":2300,"s":"RCP2.6","t":"p","v":35},{"b":"TD","y":2300,"s":"RCP2.6","t":"p","v":10},
{"b":"TD","y":2300,"s":"RCP2.6","t":"q","v":35},{"b":"TD","y":2300,"s":"RCP2.6","t":"q","v":25},
{"b":"TD","y":2300,"s":"RCP4.5","t":"p","v":70},{"b":"TD","y":2300,"s":"RCP4.5","t":"p","v":42},{"b":"TD","y":2300,"s":"RCP4.5","t":"p","v":15},
{"b":"TD","y":2300,"s":"RCP4.5","t":"q","v":42},{"b":"TD","y":2300,"s":"RCP4.5","t":"q","v":27},
{"b":"TD","y":2300,"s":"RCP8.5","t":"p","v":80},{"b":"TD","y":2300,"s":"RCP8.5","t":"p","v":75},{"b":"TD","y":2300,"s":"RCP8.5","t":"p","v":52},{"b":"TD","y":2300,"s":"RCP8.5","t":"p","v":33},{"b":"TD","y":2300,"s":"RCP8.5","t":"p","v":25},
{"b":"TD","y":2300,"s":"RCP8.5","t":"q","v":75},{"b":"TD","y":2300,"s":"RCP8.5","t":"q","v":52},{"b":"TD","y":2300,"s":"RCP8.5","t":"q","v":33},

{"b":"TR","y":2050,"s":"RCP2.6","t":"p","v":70},{"b":"TR","y":2050,"s":"RCP2.6","t":"p","v":60},{"b":"TR","y":2050,"s":"RCP2.6","t":"p","v":60},{"b":"TR","y":2050,"s":"RCP2.6","t":"p","v":50},{"b":"TR","y":2050,"s":"RCP2.6","t":"p","v":40},{"b":"TR","y":2050,"s":"RCP2.6","t":"p","v":30},{"b":"TR","y":2050,"s":"RCP2.6","t":"p","v":22},{"b":"TR","y":2050,"s":"RCP2.6","t":"p","v":20},{"b":"TR","y":2050,"s":"RCP2.6","t":"p","v":10},{"b":"TR","y":2050,"s":"RCP2.6","t":"p","v":5},
{"b":"TR","y":2050,"s":"RCP2.6","t":"q","v":54},{"b":"TR","y":2050,"s":"RCP2.6","t":"q","v":34},{"b":"TR","y":2050,"s":"RCP2.6","t":"q","v":15},
{"b":"TR","y":2050,"s":"RCP4.5","t":"p","v":85},{"b":"TR","y":2050,"s":"RCP4.5","t":"p","v":80},{"b":"TR","y":2050,"s":"RCP4.5","t":"p","v":60},{"b":"TR","y":2050,"s":"RCP4.5","t":"p","v":50},{"b":"TR","y":2050,"s":"RCP4.5","t":"p","v":40},{"b":"TR","y":2050,"s":"RCP4.5","t":"p","v":40},{"b":"TR","y":2050,"s":"RCP4.5","t":"p","v":37},{"b":"TR","y":2050,"s":"RCP4.5","t":"p","v":30},
{"b":"TR","y":2050,"s":"RCP4.5","t":"q","v":71},{"b":"TR","y":2050,"s":"RCP4.5","t":"q","v":50},{"b":"TR","y":2050,"s":"RCP4.5","t":"q","v":25},
{"b":"TR","y":2050,"s":"RCP8.5","t":"p","v":95},{"b":"TR","y":2050,"s":"RCP8.5","t":"p","v":90},{"b":"TR","y":2050,"s":"RCP8.5","t":"p","v":70},{"b":"TR","y":2050,"s":"RCP8.5","t":"p","v":70},{"b":"TR","y":2050,"s":"RCP8.5","t":"p","v":65},{"b":"TR","y":2050,"s":"RCP8.5","t":"p","v":50},{"b":"TR","y":2050,"s":"RCP8.5","t":"p","v":50},{"b":"TR","y":2050,"s":"RCP8.5","t":"p","v":33},
{"b":"TR","y":2050,"s":"RCP8.5","t":"q","v":76},{"b":"TR","y":2050,"s":"RCP8.5","t":"q","v":64},{"b":"TR","y":2050,"s":"RCP8.5","t":"q","v":50},
{"b":"TR","y":2100,"s":"RCP2.6","t":"p","v":85},{"b":"TR","y":2100,"s":"RCP2.6","t":"p","v":70},{"b":"TR","y":2100,"s":"RCP2.6","t":"p","v":70},{"b":"TR","y":2100,"s":"RCP2.6","t":"p","v":60},{"b":"TR","y":2100,"s":"RCP2.6","t":"p","v":50},{"b":"TR","y":2100,"s":"RCP2.6","t":"p","v":40},{"b":"TR","y":2100,"s":"RCP2.6","t":"p","v":20},{"b":"TR","y":2100,"s":"RCP2.6","t":"p","v":10},{"b":"TR","y":2100,"s":"RCP2.6","t":"p","v":10},
{"b":"TR","y":2100,"s":"RCP2.6","t":"q","v":76},{"b":"TR","y":2100,"s":"RCP2.6","t":"q","v":50},{"b":"TR","y":2100,"s":"RCP2.6","t":"q","v":20},
{"b":"TR","y":2100,"s":"RCP4.5","t":"p","v":90},{"b":"TR","y":2100,"s":"RCP4.5","t":"p","v":85},{"b":"TR","y":2100,"s":"RCP4.5","t":"p","v":70},{"b":"TR","y":2100,"s":"RCP4.5","t":"p","v":65},{"b":"TR","y":2100,"s":"RCP4.5","t":"p","v":50},{"b":"TR","y":2100,"s":"RCP4.5","t":"p","v":50},{"b":"TR","y":2100,"s":"RCP4.5","t":"p","v":40},{"b":"TR","y":2100,"s":"RCP4.5","t":"p","v":35},{"b":"TR","y":2100,"s":"RCP4.5","t":"p","v":30},
{"b":"TR","y":2100,"s":"RCP4.5","t":"q","v":81},{"b":"TR","y":2100,"s":"RCP4.5","t":"q","v":56},{"b":"TR","y":2100,"s":"RCP4.5","t":"q","v":34},
{"b":"TR","y":2100,"s":"RCP8.5","t":"p","v":100},{"b":"TR","y":2100,"s":"RCP8.5","t":"p","v":95},{"b":"TR","y":2100,"s":"RCP8.5","t":"p","v":95},{"b":"TR","y":2100,"s":"RCP8.5","t":"p","v":90},{"b":"TR","y":2100,"s":"RCP8.5","t":"p","v":80},{"b":"TR","y":2100,"s":"RCP8.5","t":"p","v":75},{"b":"TR","y":2100,"s":"RCP8.5","t":"p","v":70},{"b":"TR","y":2100,"s":"RCP8.5","t":"p","v":60},
{"b":"TR","y":2100,"s":"RCP8.5","t":"q","v":93},{"b":"TR","y":2100,"s":"RCP8.5","t":"q","v":84},{"b":"TR","y":2100,"s":"RCP8.5","t":"q","v":69},
{"b":"TR","y":2300,"s":"RCP2.6","t":"p","v":100},{"b":"TR","y":2300,"s":"RCP2.6","t":"p","v":95},{"b":"TR","y":2300,"s":"RCP2.6","t":"p","v":80},{"b":"TR","y":2300,"s":"RCP2.6","t":"p","v":65},{"b":"TR","y":2300,"s":"RCP2.6","t":"p","v":50},{"b":"TR","y":2300,"s":"RCP2.6","t":"p","v":20},{"b":"TR","y":2300,"s":"RCP2.6","t":"p","v":20},
{"b":"TR","y":2300,"s":"RCP2.6","t":"q","v":89},{"b":"TR","y":2300,"s":"RCP2.6","t":"q","v":71},{"b":"TR","y":2300,"s":"RCP2.6","t":"q","v":50},
{"b":"TR","y":2300,"s":"RCP4.5","t":"p","v":100},{"b":"TR","y":2300,"s":"RCP4.5","t":"p","v":95},{"b":"TR","y":2300,"s":"RCP4.5","t":"p","v":90},{"b":"TR","y":2300,"s":"RCP4.5","t":"p","v":85},{"b":"TR","y":2300,"s":"RCP4.5","t":"p","v":80},{"b":"TR","y":2300,"s":"RCP4.5","t":"p","v":75},{"b":"TR","y":2300,"s":"RCP4.5","t":"p","v":60},{"b":"TR","y":2300,"s":"RCP4.5","t":"p","v":60},{"b":"TR","y":2300,"s":"RCP4.5","t":"p","v":30},
{"b":"TR","y":2300,"s":"RCP4.5","t":"q","v":100},{"b":"TR","y":2300,"s":"RCP4.5","t":"q","v":79},{"b":"TR","y":2300,"s":"RCP4.5","t":"q","v":50},
{"b":"TR","y":2300,"s":"RCP8.5","t":"p","v":100},{"b":"TR","y":2300,"s":"RCP8.5","t":"p","v":100},{"b":"TR","y":2300,"s":"RCP8.5","t":"p","v":95},{"b":"TR","y":2300,"s":"RCP8.5","t":"p","v":90},{"b":"TR","y":2300,"s":"RCP8.5","t":"p","v":90},{"b":"TR","y":2300,"s":"RCP8.5","t":"p","v":80},{"b":"TR","y":2300,"s":"RCP8.5","t":"p","v":70},
{"b":"TR","y":2300,"s":"RCP8.5","t":"q","v":98},{"b":"TR","y":2300,"s":"RCP8.5","t":"q","v":94},{"b":"TR","y":2300,"s":"RCP8.5","t":"q","v":79},

{"b":"TM","y":2050,"s":"RCP2.6","t":"p","v":80},{"b":"TM","y":2050,"s":"RCP2.6","t":"p","v":60},{"b":"TM","y":2050,"s":"RCP2.6","t":"p","v":50},{"b":"TM","y":2050,"s":"RCP2.6","t":"p","v":50},{"b":"TM","y":2050,"s":"RCP2.6","t":"p","v":30},{"b":"TM","y":2050,"s":"RCP2.6","t":"p","v":20},{"b":"TM","y":2050,"s":"RCP2.6","t":"p","v":20},{"b":"TM","y":2050,"s":"RCP2.6","t":"p","v":10},{"b":"TM","y":2050,"s":"RCP2.6","t":"p","v":10},
{"b":"TM","y":2050,"s":"RCP2.6","t":"q","v":40},{"b":"TM","y":2050,"s":"RCP2.6","t":"q","v":30},{"b":"TM","y":2050,"s":"RCP2.6","t":"q","v":17},
{"b":"TM","y":2050,"s":"RCP4.5","t":"p","v":80},{"b":"TM","y":2050,"s":"RCP4.5","t":"p","v":60},{"b":"TM","y":2050,"s":"RCP4.5","t":"p","v":50},{"b":"TM","y":2050,"s":"RCP4.5","t":"p","v":50},{"b":"TM","y":2050,"s":"RCP4.5","t":"p","v":50},{"b":"TM","y":2050,"s":"RCP4.5","t":"p","v":25},{"b":"TM","y":2050,"s":"RCP4.5","t":"p","v":25},
{"b":"TM","y":2050,"s":"RCP4.5","t":"q","v":59},{"b":"TM","y":2050,"s":"RCP4.5","t":"q","v":50},{"b":"TM","y":2050,"s":"RCP4.5","t":"q","v":30},
{"b":"TM","y":2050,"s":"RCP8.5","t":"p","v":90},{"b":"TM","y":2050,"s":"RCP8.5","t":"p","v":90},{"b":"TM","y":2050,"s":"RCP8.5","t":"p","v":80},{"b":"TM","y":2050,"s":"RCP8.5","t":"p","v":70},{"b":"TM","y":2050,"s":"RCP8.5","t":"p","v":55},{"b":"TM","y":2050,"s":"RCP8.5","t":"p","v":50},{"b":"TM","y":2050,"s":"RCP8.5","t":"p","v":30},{"b":"TM","y":2050,"s":"RCP8.5","t":"p","v":25},
{"b":"TM","y":2050,"s":"RCP8.5","t":"q","v":84},{"b":"TM","y":2050,"s":"RCP8.5","t":"q","v":74},{"b":"TM","y":2050,"s":"RCP8.5","t":"q","v":59},
{"b":"TM","y":2100,"s":"RCP2.6","t":"p","v":80},{"b":"TM","y":2100,"s":"RCP2.6","t":"p","v":80},{"b":"TM","y":2100,"s":"RCP2.6","t":"p","v":60},{"b":"TM","y":2100,"s":"RCP2.6","t":"p","v":50},{"b":"TM","y":2100,"s":"RCP2.6","t":"p","v":40},{"b":"TM","y":2100,"s":"RCP2.6","t":"p","v":30},{"b":"TM","y":2100,"s":"RCP2.6","t":"p","v":20},{"b":"TM","y":2100,"s":"RCP2.6","t":"p","v":10},{"b":"TM","y":2100,"s":"RCP2.6","t":"p","v":10},
{"b":"TM","y":2100,"s":"RCP2.6","t":"q","v":59},{"b":"TM","y":2100,"s":"RCP2.6","t":"q","v":44},{"b":"TM","y":2100,"s":"RCP2.6","t":"q","v":30},
{"b":"TM","y":2100,"s":"RCP4.5","t":"p","v":90},{"b":"TM","y":2100,"s":"RCP4.5","t":"p","v":85},{"b":"TM","y":2100,"s":"RCP4.5","t":"p","v":70},{"b":"TM","y":2100,"s":"RCP4.5","t":"p","v":65},{"b":"TM","y":2100,"s":"RCP4.5","t":"p","v":50},{"b":"TM","y":2100,"s":"RCP4.5","t":"p","v":40},{"b":"TM","y":2100,"s":"RCP4.5","t":"p","v":30},
{"b":"TM","y":2100,"s":"RCP4.5","t":"q","v":79},{"b":"TM","y":2100,"s":"RCP4.5","t":"q","v":66},{"b":"TM","y":2100,"s":"RCP4.5","t":"q","v":40},
{"b":"TM","y":2100,"s":"RCP8.5","t":"p","v":100},{"b":"TM","y":2100,"s":"RCP8.5","t":"p","v":95},{"b":"TM","y":2100,"s":"RCP8.5","t":"p","v":95},{"b":"TM","y":2100,"s":"RCP8.5","t":"p","v":90},{"b":"TM","y":2100,"s":"RCP8.5","t":"p","v":90},{"b":"TM","y":2100,"s":"RCP8.5","t":"p","v":70},{"b":"TM","y":2100,"s":"RCP8.5","t":"p","v":45},
{"b":"TM","y":2100,"s":"RCP8.5","t":"q","v":89},{"b":"TM","y":2100,"s":"RCP8.5","t":"q","v":79},
{"b":"TM","y":2300,"s":"RCP2.6","t":"p","v":90},{"b":"TM","y":2300,"s":"RCP2.6","t":"p","v":90},{"b":"TM","y":2300,"s":"RCP2.6","t":"p","v":80},{"b":"TM","y":2300,"s":"RCP2.6","t":"p","v":70},{"b":"TM","y":2300,"s":"RCP2.6","t":"p","v":50},{"b":"TM","y":2300,"s":"RCP2.6","t":"p","v":50},{"b":"TM","y":2300,"s":"RCP2.6","t":"p","v":30},{"b":"TM","y":2300,"s":"RCP2.6","t":"p","v":20},{"b":"TM","y":2300,"s":"RCP2.6","t":"p","v":10},{"b":"TM","y":2300,"s":"RCP2.6","t":"p","v":10},
{"b":"TM","y":2300,"s":"RCP2.6","t":"q","v":74},{"b":"TM","y":2300,"s":"RCP2.6","t":"q","v":50},{"b":"TM","y":2300,"s":"RCP2.6","t":"q","v":25},
{"b":"TM","y":2300,"s":"RCP4.5","t":"p","v":100},{"b":"TM","y":2300,"s":"RCP4.5","t":"p","v":90},{"b":"TM","y":2300,"s":"RCP4.5","t":"p","v":85},{"b":"TM","y":2300,"s":"RCP4.5","t":"p","v":75},{"b":"TM","y":2300,"s":"RCP4.5","t":"p","v":70},{"b":"TM","y":2300,"s":"RCP4.5","t":"p","v":50},{"b":"TM","y":2300,"s":"RCP4.5","t":"p","v":10},
{"b":"TM","y":2300,"s":"RCP4.5","t":"q","v":94},{"b":"TM","y":2300,"s":"RCP4.5","t":"q","v":71},{"b":"TM","y":2300,"s":"RCP4.5","t":"q","v":44},
{"b":"TM","y":2300,"s":"RCP8.5","t":"p","v":100},{"b":"TM","y":2300,"s":"RCP8.5","t":"p","v":100},{"b":"TM","y":2300,"s":"RCP8.5","t":"p","v":100},{"b":"TM","y":2300,"s":"RCP8.5","t":"p","v":95},{"b":"TM","y":2300,"s":"RCP8.5","t":"p","v":90},{"b":"TM","y":2300,"s":"RCP8.5","t":"p","v":80},{"b":"TM","y":2300,"s":"RCP8.5","t":"p","v":10},
{"b":"TM","y":2300,"s":"RCP8.5","t":"q","v":95},{"b":"TM","y":2300,"s":"RCP8.5","t":"q","v":90},

{"b":"TU","y":2050,"s":"RCP2.6","t":"p","v":90},{"b":"TU","y":2050,"s":"RCP2.6","t":"p","v":60},{"b":"TU","y":2050,"s":"RCP2.6","t":"p","v":30},
{"b":"TU","y":2050,"s":"RCP2.6","t":"q","v":79},{"b":"TU","y":2050,"s":"RCP2.6","t":"q","v":60},{"b":"TU","y":2050,"s":"RCP2.6","t":"q","v":50},
{"b":"TU","y":2050,"s":"RCP4.5","t":"p","v":90},{"b":"TU","y":2050,"s":"RCP4.5","t":"p","v":60},{"b":"TU","y":2050,"s":"RCP4.5","t":"p","v":50},
{"b":"TU","y":2050,"s":"RCP4.5","t":"q","v":95},{"b":"TU","y":2050,"s":"RCP4.5","t":"q","v":60},{"b":"TU","y":2050,"s":"RCP4.5","t":"q","v":50},
{"b":"TU","y":2050,"s":"RCP8.5","t":"p","v":90},{"b":"TU","y":2050,"s":"RCP8.5","t":"p","v":70},{"b":"TU","y":2050,"s":"RCP8.5","t":"p","v":50},
{"b":"TU","y":2050,"s":"RCP8.5","t":"q","v":90},{"b":"TU","y":2050,"s":"RCP8.5","t":"q","v":70},{"b":"TU","y":2050,"s":"RCP8.5","t":"q","v":50},
{"b":"TU","y":2100,"s":"RCP2.6","t":"p","v":90},{"b":"TU","y":2100,"s":"RCP2.6","t":"p","v":75},{"b":"TU","y":2100,"s":"RCP2.6","t":"p","v":55},
{"b":"TU","y":2100,"s":"RCP2.6","t":"q","v":75},{"b":"TU","y":2100,"s":"RCP2.6","t":"q","v":64},
{"b":"TU","y":2100,"s":"RCP4.5","t":"p","v":90},{"b":"TU","y":2100,"s":"RCP4.5","t":"p","v":75},{"b":"TU","y":2100,"s":"RCP4.5","t":"p","v":70},{"b":"TU","y":2100,"s":"RCP4.5","t":"p","v":65},
{"b":"TU","y":2100,"s":"RCP4.5","t":"q","v":94},{"b":"TU","y":2100,"s":"RCP4.5","t":"q","v":74},{"b":"TU","y":2100,"s":"RCP4.5","t":"q","v":64},
{"b":"TU","y":2100,"s":"RCP8.5","t":"p","v":100},{"b":"TU","y":2100,"s":"RCP8.5","t":"p","v":98},{"b":"TU","y":2100,"s":"RCP8.5","t":"p","v":75},
{"b":"TU","y":2100,"s":"RCP8.5","t":"q","v":96},{"b":"TU","y":2100,"s":"RCP8.5","t":"q","v":94},{"b":"TU","y":2100,"s":"RCP8.5","t":"q","v":74},
{"b":"TU","y":2300,"s":"RCP2.6","t":"p","v":90},{"b":"TU","y":2300,"s":"RCP2.6","t":"p","v":90},{"b":"TU","y":2300,"s":"RCP2.6","t":"p","v":80},
{"b":"TU","y":2300,"s":"RCP2.6","t":"q","v":97},{"b":"TU","y":2300,"s":"RCP2.6","t":"q","v":69},
{"b":"TU","y":2300,"s":"RCP4.5","t":"p","v":95},{"b":"TU","y":2300,"s":"RCP4.5","t":"p","v":90},{"b":"TU","y":2300,"s":"RCP4.5","t":"p","v":80},
{"b":"TU","y":2300,"s":"RCP4.5","t":"q","v":97},{"b":"TU","y":2300,"s":"RCP4.5","t":"q","v":90},{"b":"TU","y":2300,"s":"RCP4.5","t":"q","v":69},
{"b":"TU","y":2300,"s":"RCP8.5","t":"p","v":100},{"b":"TU","y":2300,"s":"RCP8.5","t":"p","v":90},
{"b":"TU","y":2300,"s":"RCP8.5","t":"q","v":97}
]},
"title":{"text":"(%)","orient":"left","fontSize":27,"offset":4,"anchor":"middle"},
"vconcat":[{
 "title":{"text":"Year","orient":"bottom","fontSize":26,"offset":-3,"anchor":"middle"},
 "data":{"name":"obs"},
 "transform":[{"lookup":"b","from":{"data":{"name":"biomes"},"key":"b","fields":["Biome"]}}],
 "facet":{"field":"Biome","type":"nominal","header":{"labels":false,"title":null,"labelFontSize":0,"labelPadding":0,"labelExpr":"''"}},
 "columns":4,
 "spacing":{"row":5,"column":2},
 "spec":{
  "width":293,"height":241,
  "layer":[
   {"transform":[
     {"filter":"datum.t == 'p'"},
     {"joinaggregate":[{"op":"min","field":"v","as":"mn"},{"op":"max","field":"v","as":"mx"}],"groupby":["b","y","s"]},
     {"filter":"datum.mx > datum.mn"},
     {"joinaggregate":[{"op":"distinct","field":"s","as":"nv"}],"groupby":["b","y"]},
     {"density":"v","groupby":["Biome","b","y","s","mn","mx","nv"],"extent":[0,100],"steps":401,"as":["v","d"]},
     {"filter":"datum.v >= datum.mn - 0.001 && datum.v <= datum.mx + 0.001"},
     {"joinaggregate":[{"op":"max","field":"d","as":"dmax"}],"groupby":["b"]},
     {"calculate":"indexof([2050,2100,2300], datum.y) + 1 + (datum.nv == 1 ? 0 : (datum.s == 'RCP2.6' ? -0.25 : (datum.s == 'RCP8.5' ? 0.25 : 0)))","as":"c"},
     {"calculate":"0.45 / datum.nv * datum.d / datum.dmax","as":"hw"},
     {"calculate":"datum.c - datum.hw","as":"xl"},
     {"calculate":"datum.c + datum.hw","as":"xr"}
    ],
    "mark":{"type":"area","orient":"horizontal","stroke":"#333333","strokeWidth":0.8,"fillOpacity":0.75},
    "encoding":{
     "y":{"field":"v","type":"quantitative","scale":{"domain":[-5,120.6],"nice":false,"zero":false},
      "axis":{"title":null,"values":[0,12.5,25,37.5,50,62.5,75,87.5,100],"labelExpr":"datum.value % 25 == 0 ? datum.label : ''","tickColor":{"condition":{"test":"datum.value % 25 != 0","value":"transparent"},"value":"#333333"},"gridColor":{"condition":{"test":"datum.value % 25 != 0","value":"#f3f3f3"},"value":"#e8e8e8"}}},
     "x":{"field":"xl","type":"quantitative","scale":{"domain":[0.4,3.6],"nice":false,"zero":false},
      "axis":{"title":null,"values":[1,2,3],"labelExpr":"datum.value == 1 ? '2050' : (datum.value == 2 ? '2100' : '2300')"}},
     "x2":{"field":"xr"},
     "fill":{"field":"s","type":"nominal","scale":{"domain":["RCP2.6","RCP4.5","RCP8.5"],"range":["#ffff33","#ffa319","#ff5a33"]},
      "legend":{"title":"Scenario","orient":"none","legendX":945,"legendY":572,"titleFontSize":27,"titleFontWeight":"normal","titleColor":"#000000","titlePadding":10,"labelFontSize":22,"labelColor":"#000000","symbolType":"square","symbolSize":400,"symbolStrokeColor":"#555555","symbolStrokeWidth":1.5,"symbolOpacity":1,"rowPadding":-5,"labelOffset":16}},
     "detail":{"field":"y","type":"nominal"}
    }
   },
   {"transform":[{"filter":"datum.t == 'p'"},
     {"calculate":"indexof([2050,2100,2300], datum.y) + 1 + (datum.s == 'RCP2.6' ? -0.25 : (datum.s == 'RCP8.5' ? 0.25 : 0))","as":"c"}],
    "mark":{"type":"point","filled":true,"size":26,"opacity":0.55},
    "encoding":{
     "x":{"field":"c","type":"quantitative"},
     "y":{"field":"v","type":"quantitative"},
     "color":{"field":"s","type":"nominal","scale":{"domain":["RCP2.6","RCP4.5","RCP8.5"],"range":["#cfcf10","#e08a00","#e0481a"]},"legend":null}
    }
   },
   {"transform":[{"filter":"datum.t == 'q'"},
     {"calculate":"indexof([2050,2100,2300], datum.y) + 1 + (datum.s == 'RCP2.6' ? -0.25 : (datum.s == 'RCP8.5' ? 0.25 : 0))","as":"c"}],
    "mark":{"type":"tick","orient":"horizontal","color":"#000000","size":11,"thickness":1.4,"opacity":1},
    "encoding":{
     "x":{"field":"c","type":"quantitative"},
     "y":{"field":"v","type":"quantitative"}
    }
   },
   {"transform":[{"aggregate":[{"op":"count","as":"n"}],"groupby":["Biome"]}],
    "mark":{"type":"rect","fill":"#d9d9d9","stroke":"#333333","strokeWidth":1},
    "encoding":{"x":{"datum":0.4},"x2":{"datum":3.6},"y":{"datum":105},"y2":{"datum":120.6}}
   },
   {"transform":[{"aggregate":[{"op":"count","as":"n"}],"groupby":["Biome"]}],
    "mark":{"type":"text","fontSize":22,"color":"#1a1a1a","baseline":"middle","font":"Liberation Sans"},
    "encoding":{"x":{"datum":2},"y":{"datum":112.6},"text":{"field":"Biome","type":"nominal"}}
   }
  ]
 }
}]
}
